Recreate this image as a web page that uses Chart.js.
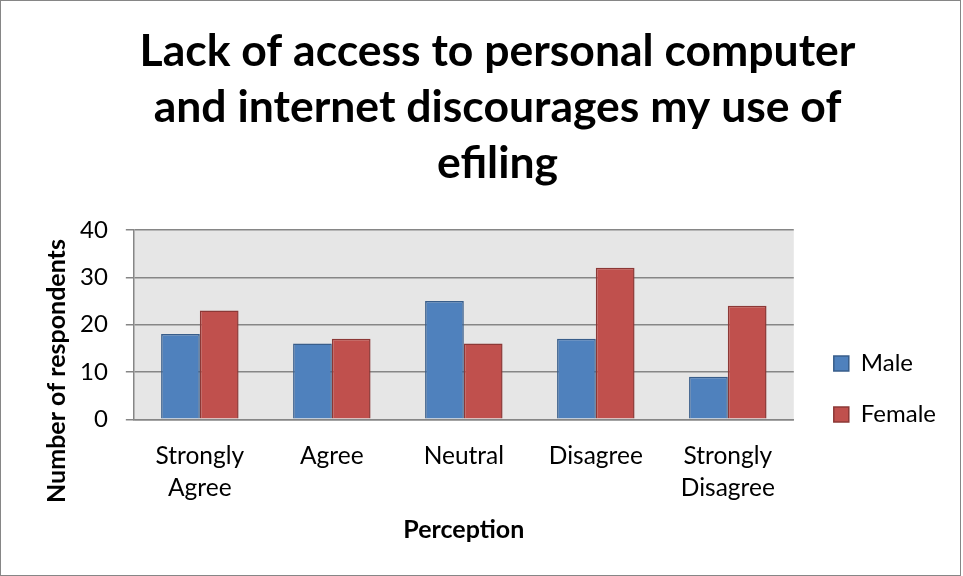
<!DOCTYPE html>
<html>
<head>
<meta charset="utf-8">
<script src="https://cdn.jsdelivr.net/npm/chart.js@4"></script>
<style>
  html, body { margin: 0; padding: 0; background: #fff; }
  #wrap { width: 963px; height: 576px; }
</style>
</head>
<body>
<div id="wrap"><canvas id="graphCanvas" width="963" height="576"></canvas></div>
<script>
var categories = [['Strongly', 'Agree'], 'Agree', 'Neutral', 'Disagree', ['Strongly', 'Disagree']];
var maleValues = [18, 16, 25, 17, 9];
var femaleValues = [23, 17, 16, 32, 24];
var titleLines = ['Lack of access to personal computer', 'and internet discourages my use of', 'efiling'];
var yAxisTitle = 'Number of respondents';
var xAxisTitle = 'Perception';

var FONT = "Lato, 'Open Sans', sans-serif";

// grey plot background, outer frame, y axis title, legend placement
var chartDecor = {
    id: 'chartDecor',
    afterLayout: function (chart) {
        var lg = chart.legend;
        lg.left = chart.chartArea.right + 13;
        lg.right = lg.left + lg.width;
        lg.top = 389 - 150;
        lg.bottom = 389 + 150;
        lg.height = 300;
    },
    beforeDraw: function (chart) {
        var a = chart.chartArea, c = chart.ctx;
        c.save();
        c.fillStyle = '#e6e6e6';
        c.fillRect(a.left, a.top, a.right - a.left, a.bottom - a.top);
        c.restore();
    },
    afterDraw: function (chart) {
        var c = chart.ctx;
        c.save();
        c.strokeStyle = '#868686';
        c.lineWidth = 1;
        c.strokeRect(0.5, 0.5, chart.width - 3, chart.height - 1);
        c.translate(57, 371);
        c.rotate(-Math.PI / 2);
        c.fillStyle = '#000';
        c.font = 'bold 25px ' + FONT;
        c.textAlign = 'center';
        c.textBaseline = 'middle';
        c.fillText(yAxisTitle, 0, 0);
        c.restore();
    }
};

var chartdata = {
    labels: categories,
    datasets: [
        {
            label: 'Male',
            data: maleValues,
            backgroundColor: '#4f81bd',
            borderColor: '#385d8a',
            borderWidth: 1.5
        },
        {
            label: 'Female',
            data: femaleValues,
            backgroundColor: '#c0504d',
            borderColor: '#8c3836',
            borderWidth: 1.5
        }
    ]
};

new Chart(document.getElementById('graphCanvas'), {
    type: 'bar',
    data: chartdata,
    plugins: [chartDecor],
    options: {
        responsive: false,
        animation: false,
        devicePixelRatio: 1,
        categoryPercentage: 0.587,
        barPercentage: 1.0,
        layout: { padding: { left: 62, right: 30, top: 0, bottom: 31 } },
        plugins: {
            title: {
                display: true,
                text: titleLines,
                color: '#000',
                font: { family: FONT, size: 44.5, weight: 'bold', lineHeight: 1.258 },
                padding: { top: 24, bottom: 38 }
            },
            legend: {
                position: 'right',
                labels: {
                    color: '#000',
                    font: { family: FONT, size: 24 },
                    boxWidth: 15,
                    boxHeight: 15,
                    padding: 27
                }
            },
            tooltip: { enabled: false }
        },
        scales: {
            x: {
                grid: { display: false, drawTicks: false },
                border: { display: true, color: '#868686', width: 1.5 },
                ticks: { color: '#000', font: { family: FONT, size: 24.5, lineHeight: 1.3 }, padding: 21, maxRotation: 0 },
                title: {
                    display: true,
                    text: xAxisTitle,
                    color: '#000',
                    font: { family: FONT, size: 25, weight: 'bold', lineHeight: 1.2 },
                    padding: { top: -10, bottom: 0 }
                }
            },
            y: {
                min: 0,
                max: 40,
                ticks: { stepSize: 10, color: '#000', font: { family: FONT, size: 24 }, padding: 18 },
                grid: { color: '#868686', lineWidth: 1.5, tickLength: 8 },
                border: { display: true, color: '#868686', width: 1.5 }
            }
        }
    }
});
</script>
</body>
</html>
